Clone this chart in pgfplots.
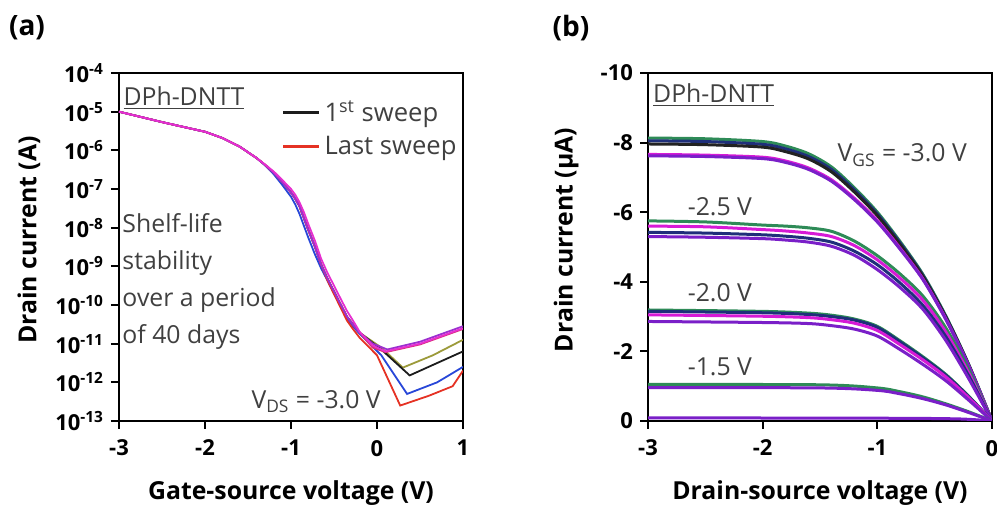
\documentclass[border=0pt]{standalone}
\usepackage{fontspec}
\setmainfont{Open Sans}
\usepackage{pgfplots}
\usepackage{pgfplotstable}
\pgfplotsset{compat=1.18}

\definecolor{txt}{HTML}{404040}
\definecolor{cblack}{HTML}{1C1C1C}
\definecolor{cred}{HTML}{E53224}
\definecolor{cblue}{HTML}{2847D8}
\definecolor{colive}{HTML}{9C9A3A}
\definecolor{cmag}{HTML}{E62FD0}
\definecolor{cpur}{HTML}{9B30D0}
\definecolor{cpink}{HTML}{D8307A}
\definecolor{bgreen}{HTML}{2E8B57}
\definecolor{bnavy}{HTML}{1F2F7A}
\definecolor{bblack}{HTML}{222222}
\definecolor{bmag}{HTML}{D61AD6}
\definecolor{bpur}{HTML}{7A1FC8}

% output curves, one table per gate voltage (drain current in uA)
\pgfplotstableread{
x     g      n      k      m      p
-3.0  -8.13  -8.05  -7.96  -7.66  -7.62
-2.5  -8.11  -8.03  -7.94  -7.64  -7.60
-2.0  -8.03  -7.95  -7.87  -7.58  -7.54
-1.8  -7.90  -7.82  -7.74  -7.47  -7.43
-1.6  -7.68  -7.60  -7.53  -7.27  -7.23
-1.4  -7.30  -7.23  -7.16  -6.93  -6.89
-1.2  -6.70  -6.64  -6.58  -6.40  -6.36
-1.0  -6.00  -5.95  -5.90  -5.76  -5.72
-0.8  -5.15  -5.11  -5.06  -4.96  -4.93
-0.6  -4.20  -4.17  -4.14  -4.07  -4.05
-0.4  -3.00  -2.98  -2.96  -2.92  -2.90
-0.2  -1.60  -1.59  -1.58  -1.56  -1.55
 0.0   0      0      0      0      0
}\vgsthree

\pgfplotstableread{
x     g      m      n      p
-3.0  -5.75  -5.60  -5.42  -5.30
-2.5  -5.72  -5.58  -5.40  -5.28
-2.0  -5.63  -5.50  -5.35  -5.24
-1.8  -5.60  -5.46  -5.31  -5.20
-1.6  -5.55  -5.40  -5.25  -5.14
-1.4  -5.45  -5.30  -5.14  -5.02
-1.2  -5.17  -5.04  -4.88  -4.76
-1.0  -4.75  -4.63  -4.49  -4.35
-0.8  -4.22  -4.10  -3.96  -3.83
-0.6  -3.58  -3.46  -3.31  -3.20
-0.4  -2.66  -2.54  -2.41  -2.30
-0.2  -1.45  -1.36  -1.28  -1.20
 0.0   0      0      0      0
}\vgstwofive

\pgfplotstableread{
x      g      n      m      p
-3.0   -3.19  -3.15  -3.05  -2.86
-2.0   -3.15  -3.11  -3.01  -2.83
-1.6   -3.10  -3.06  -2.97  -2.80
-1.4   -3.04  -3.00  -2.91  -2.74
-1.2   -2.93  -2.90  -2.81  -2.64
-1.0   -2.72  -2.69  -2.60  -2.44
-0.8   -2.30  -2.27  -2.19  -2.05
-0.6   -1.84  -1.81  -1.75  -1.62
-0.4   -1.33  -1.31  -1.26  -1.15
-0.2   -0.70  -0.69  -0.66  -0.59
 0.0    0      0      0      0
}\vgstwo

\pgfplotstableread{
x     g      p
-3.0  -1.05  -0.96
-1.5  -1.04  -0.95
-1.0  -0.95  -0.88
-0.8  -0.84  -0.78
-0.6  -0.69  -0.64
-0.4  -0.49  -0.46
-0.2  -0.26  -0.24
 0.0   0      0
}\vgsonefive

\pgfplotstableread{
x     p
-3.0  -0.09
-1.0  -0.08
-0.3  -0.06
 0.0   0
}\vgsoff

\pgfplotsset{
  panel/.style={
    scale only axis, width=172pt, height=174pt,
    axis line style={line width=1pt},
    tick align=outside, tick pos=left, major tick length=4pt,
    every tick/.style={line width=1pt, black},
    tick label style={font=\fontsize{11}{13}\selectfont\bfseries},
    xticklabel style={yshift=-2pt},
    label style={font=\fontsize{12.4}{14}\selectfont\bfseries},
  },
}
\tikzset{ann/.style={font=\fontsize{12.4}{14}\selectfont, text=txt, inner sep=0pt}}

\begin{document}
\begin{tikzpicture}
\useasboundingbox (0pt,0pt) rectangle (498.5pt,253pt);

\node[font=\fontsize{14}{16}\selectfont\bfseries] at (13.5pt,239pt) {(a)};
\node[font=\fontsize{14}{16}\selectfont\bfseries] at (285.5pt,239pt) {(b)};

% (a) transfer curves
\begin{axis}[panel,
  at={(59.5pt,42.5pt)}, anchor=south west,
  xmin=-3, xmax=1, ymode=log, ymin=1e-13, ymax=1e-4,
  yminorticks=false,
  xtick={-3,-2,-1,0,1}, xticklabels={-3,-2,-1,0,1},
  ytick={1e-13,1e-12,1e-11,1e-10,1e-9,1e-8,1e-7,1e-6,1e-5,1e-4},
  yticklabels={10\textsuperscript{-13},10\textsuperscript{-12},10\textsuperscript{-11},10\textsuperscript{-10},10\textsuperscript{-9},10\textsuperscript{-8},10\textsuperscript{-7},10\textsuperscript{-6},10\textsuperscript{-5},10\textsuperscript{-4}},
  xlabel={Gate-source voltage (V)},
  ylabel={Drain current (A)},
  xlabel style={at={(axis description cs:0.5,-0.207)}, anchor=center},
  ylabel style={at={(axis description cs:-0.262,0.52)}, anchor=center},
  legend style={at={(0.455,0.945)}, anchor=north west, draw=none, fill=none,
    font=\fontsize{12.8}{15}\selectfont, text=txt, row sep=2pt},
  legend cell align=left,
  legend image code/.code={\draw[#1, line width=1.3pt] (0pt,0pt) -- (18pt,0pt);},
  every axis plot/.append style={line width=0.9pt},
]
\addplot[colive, forget plot] coordinates {
(-3,1.00e-5) (-2.5,5.37e-6) (-2,3.02e-6) (-1.8,2.09e-6) (-1.6,1.26e-6) (-1.4,6.31e-7)
(-1.3,4.17e-7) (-1.2,2.63e-7) (-1.1,1.51e-7) (-1,8.13e-8) (-0.95,5.62e-8) (-0.9,3.55e-8)
(-0.85,1.78e-8) (-0.8,8.91e-9) (-0.72,3.16e-9) (-0.65,1.12e-9) (-0.58,5.01e-10) (-0.5,2.24e-10)
(-0.42,1.0e-10) (-0.35,5.01e-11) (-0.28,3.16e-11) (-0.2,1.91e-11)
(0.05,7.94e-12) (0.3,2.4e-12) (0.65,5.01e-12) (1,1.26e-11)};
\addplot[cblack] coordinates {
(-3,1.00e-5) (-2.5,5.37e-6) (-2,3.02e-6) (-1.8,2.09e-6) (-1.6,1.26e-6) (-1.4,6.31e-7)
(-1.3,4.17e-7) (-1.2,2.63e-7) (-1.1,1.51e-7) (-1,8.13e-8) (-0.95,5.62e-8) (-0.9,3.55e-8)
(-0.85,1.78e-8) (-0.8,8.91e-9) (-0.72,3.16e-9) (-0.65,1.12e-9) (-0.58,5.01e-10) (-0.5,2.24e-10)
(-0.42,1.0e-10) (-0.35,5.01e-11) (-0.28,3.16e-11) (-0.2,1.91e-11)
(0.05,7.08e-12) (0.38,1.51e-12) (0.7,3.16e-12) (1,6.31e-12)};
\addlegendentry{1\textsuperscript{st} sweep}
\addplot[cblue, forget plot] coordinates {
(-3,1.00e-5) (-2.5,5.37e-6) (-2,3.02e-6) (-1.8,2.09e-6) (-1.6,1.26e-6) (-1.4,6.31e-7)
(-1.3,4.07e-7) (-1.2,2.4e-7) (-1.1,1.26e-7) (-1,6.31e-8) (-0.95,3.98e-8) (-0.9,2.24e-8)
(-0.85,1.12e-8) (-0.8,5.62e-9) (-0.72,2.0e-9) (-0.65,8.91e-10) (-0.58,4.47e-10) (-0.5,2.0e-10)
(-0.42,8.91e-11) (-0.35,4.47e-11) (-0.28,2.82e-11) (-0.2,1.78e-11)
(0.05,5.01e-12) (0.35,5.01e-13) (0.7,1.0e-12) (1,2.51e-12)};
\addplot[cred] coordinates {
(-3,1.00e-5) (-2.5,5.37e-6) (-2,3.02e-6) (-1.8,2.09e-6) (-1.6,1.26e-6) (-1.4,6.31e-7)
(-1.3,4.17e-7) (-1.2,2.63e-7) (-1.1,1.51e-7) (-1,8.13e-8) (-0.95,5.62e-8) (-0.9,3.55e-8)
(-0.85,1.78e-8) (-0.8,8.91e-9) (-0.72,3.16e-9) (-0.65,1.12e-9) (-0.58,4.47e-10) (-0.5,1.91e-10)
(-0.42,8.32e-11) (-0.35,3.98e-11) (-0.28,2.4e-11) (-0.2,1.41e-11)
(0,5.01e-12) (0.27,2.51e-13) (0.6,4.47e-13) (0.88,7.94e-13) (1,2.0e-12)};
\addlegendentry{Last sweep}
\addplot[cpink, forget plot] coordinates {
(-3,1.00e-5) (-2.5,5.37e-6) (-2,3.02e-6) (-1.8,2.09e-6) (-1.6,1.26e-6) (-1.4,6.31e-7)
(-1.3,4.17e-7) (-1.2,2.63e-7) (-1.1,1.51e-7) (-1,8.13e-8) (-0.95,5.62e-8) (-0.9,3.55e-8)
(-0.85,1.78e-8) (-0.8,8.91e-9) (-0.72,3.16e-9) (-0.65,1.12e-9) (-0.58,5.01e-10) (-0.5,2.24e-10)
(-0.42,1.0e-10) (-0.35,5.01e-11) (-0.28,3.16e-11) (-0.2,1.91e-11)
(-0.05,7.94e-12) (0.1,6.03e-12) (0.5,9.55e-12) (1,2.4e-11)};
\addplot[cpur, forget plot] coordinates {
(-3,1.00e-5) (-2.5,5.37e-6) (-2,3.02e-6) (-1.8,2.09e-6) (-1.6,1.26e-6) (-1.4,6.31e-7)
(-1.3,4.17e-7) (-1.2,2.63e-7) (-1.1,1.51e-7) (-1,8.13e-8) (-0.95,5.62e-8) (-0.9,3.55e-8)
(-0.85,1.78e-8) (-0.8,8.91e-9) (-0.72,3.16e-9) (-0.65,1.12e-9) (-0.58,5.01e-10) (-0.5,2.24e-10)
(-0.42,1.0e-10) (-0.35,5.01e-11) (-0.28,3.16e-11) (-0.2,1.91e-11)
(-0.05,1.0e-11) (0.12,7.08e-12) (0.5,1.12e-11) (1,2.82e-11)};
\addplot[cmag, forget plot] coordinates {
(-3,1.00e-5) (-2.5,5.37e-6) (-2,3.02e-6) (-1.8,2.09e-6) (-1.6,1.26e-6) (-1.4,6.31e-7)
(-1.3,4.27e-7) (-1.2,2.82e-7) (-1.1,1.70e-7) (-1,1.0e-7) (-0.95,7.08e-8) (-0.9,4.47e-8)
(-0.85,2.51e-8) (-0.8,1.26e-8) (-0.72,4.47e-9) (-0.65,1.58e-9) (-0.58,7.08e-10) (-0.5,3.16e-10)
(-0.42,1.41e-10) (-0.35,7.08e-11) (-0.28,3.98e-11) (-0.2,2.0e-11)
(-0.05,8.91e-12) (0.1,6.31e-12) (0.5,1.0e-11) (1,2.51e-11)};

\node[ann, anchor=west] at (rel axis cs:0.012,0.928) {\underline{DPh-DNTT}};
\node[ann, anchor=north west, align=left, font=\fontsize{12.4}{18.5}\selectfont]
  at (rel axis cs:0.009,0.598) {Shelf-life\\stability\\over a period\\of 40 days};
\node[ann, anchor=center] at (rel axis cs:0.573,0.055) {V\textsubscript{DS} = -3.0 V};
\end{axis}

% (b) output curves
\begin{axis}[panel,
  at={(324pt,42.5pt)}, anchor=south west,
  xmin=-3, xmax=0, ymin=-10, ymax=0, y dir=reverse,
  xtick={-3,-2,-1,0}, xticklabels={-3,-2,-1,0},
  ytick={-10,-8,-6,-4,-2,0}, yticklabels={-10,-8,-6,-4,-2,0},
  xlabel={Drain-source voltage (V)},
  ylabel={Drain current (µA)},
  xlabel style={at={(axis description cs:0.5,-0.207)}, anchor=center},
  ylabel style={at={(axis description cs:-0.238,0.52)}, anchor=center},
  every axis plot/.append style={line width=1.5pt, smooth},
]
\addplot[bgreen] table[y=g] {\vgsthree};
\addplot[bnavy] table[y=n] {\vgsthree};
\addplot[bblack] table[y=k] {\vgsthree};
\addplot[bmag] table[y=m] {\vgsthree};
\addplot[bpur] table[y=p] {\vgsthree};

\addplot[bgreen] table[y=g] {\vgstwofive};
\addplot[bmag] table[y=m] {\vgstwofive};
\addplot[bnavy] table[y=n] {\vgstwofive};
\addplot[bpur] table[y=p] {\vgstwofive};

\addplot[bgreen] table[y=g] {\vgstwo};
\addplot[bnavy] table[y=n] {\vgstwo};
\addplot[bmag] table[y=m] {\vgstwo};
\addplot[bpur] table[y=p] {\vgstwo};

\addplot[bgreen] table[y=g] {\vgsonefive};
\addplot[bpur] table[y=p] {\vgsonefive};

\addplot[bpur] table[y=p] {\vgsoff};

\node[ann, anchor=west] at (rel axis cs:0.014,0.937) {\underline{DPh-DNTT}};
\node[ann, anchor=center] at (rel axis cs:0.739,0.764) {V\textsubscript{GS} = -3.0 V};
\node[ann, anchor=center] at (rel axis cs:0.209,0.615) {-2.5 V};
\node[ann, anchor=center] at (rel axis cs:0.209,0.368) {-2.0 V};
\node[ann, anchor=center] at (rel axis cs:0.209,0.155) {-1.5 V};
\end{axis}
\end{tikzpicture}
\end{document}
